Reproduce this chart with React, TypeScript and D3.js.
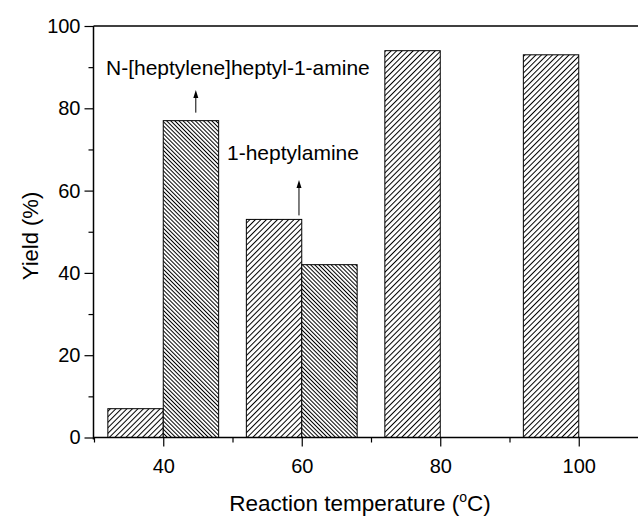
import React, { useRef, useEffect } from "react";
import * as d3 from "d3";

const temps = [40, 60, 80, 100];
const heptylamine = [7, 53, 94, 93];
const dimerAmine = [77, 42, 0, 0];
const seriesNames = ["1-heptylamine", "N-[heptylene]heptyl-1-amine"];
const yMajor = [0, 20, 40, 60, 80, 100];
const yMinor = [10, 30, 50, 70, 90];
const xMajor = [40, 60, 80, 100];
const xMinor = [30, 50, 70, 90, 110];

export default function App() {
  const svgRef = useRef<SVGSVGElement>(null);

  useEffect(() => {
    const width = 638;
    const height = 520;
    const font = "'Liberation Sans', Arial, sans-serif";

    const svg = d3.select(svgRef.current)
      .attr("width", width)
      .attr("height", height)
      .attr("viewBox", [0, 0, width, height] as any);

    svg.selectAll("*").remove();

    const x = d3.scaleLinear().domain([30, 110]).range([94, 648]);
    const y = d3.scaleLinear().domain([0, 100]).range([437.5, 26]);
    const barW = 8; // in °C units

    // hatch patterns
    const defs = svg.append("defs");
    const hatch = (id, size, angle) => {
      const p = defs.append("pattern")
        .attr("id", id)
        .attr("patternUnits", "userSpaceOnUse")
        .attr("width", size)
        .attr("height", size)
        .attr("patternTransform", `rotate(${angle})`);
      p.append("rect").attr("width", size).attr("height", size).attr("fill", "#fff");
      p.append("line")
        .attr("x1", 0.5).attr("y1", 0)
        .attr("x2", 0.5).attr("y2", size)
        .attr("stroke", "#000").attr("stroke-width", 1);
    };
    hatch("hatchA", 3.9, 45);
    hatch("hatchB", 2.9, -45);

    const rows = temps.map((t, i) => ({ t, a: heptylamine[i], b: dimerAmine[i] }));

    // bars, series A (left of tick) and B (right of tick)
    svg.append("g")
      .selectAll("rect")
      .data(rows)
      .join("rect")
        .attr("x", d => x(d.t - barW))
        .attr("y", d => y(d.a))
        .attr("width", x(barW) - x(0))
        .attr("height", d => y(0) - y(d.a))
        .attr("fill", "url(#hatchA)")
        .attr("stroke", "#000")
        .attr("stroke-width", 1);

    svg.append("g")
      .selectAll("rect")
      .data(rows)
      .join("rect")
        .attr("x", d => x(d.t))
        .attr("y", d => y(d.b))
        .attr("width", x(barW) - x(0))
        .attr("height", d => y(0) - y(d.b))
        .attr("fill", "url(#hatchB)")
        .attr("stroke", "#000")
        .attr("stroke-width", 1);

    const styleAxis = g => {
      g.selectAll("text").attr("font-family", font).attr("font-size", 20).attr("fill", "#000");
      g.selectAll("line").attr("stroke", "#000").attr("stroke-width", 1.2);
      g.select(".domain").remove();
    };

    // bottom axis
    svg.append("g")
      .attr("transform", `translate(0,${y(0)})`)
      .call(d3.axisBottom(x).tickValues(xMajor).tickSize(9).tickPadding(12).tickFormat(d3.format("d")))
      .call(styleAxis);
    svg.append("g")
      .attr("transform", `translate(0,${y(0)})`)
      .call(d3.axisBottom(x).tickValues(xMinor).tickSize(5).tickFormat(() => ""))
      .call(styleAxis);

    // left axis
    svg.append("g")
      .attr("transform", `translate(${x(30) - 0.5},0)`)
      .call(d3.axisLeft(y).tickValues(yMajor).tickSize(9).tickPadding(4).tickFormat(d3.format("d")))
      .call(styleAxis);
    svg.append("g")
      .attr("transform", `translate(${x(30) - 0.5},0)`)
      .call(d3.axisLeft(y).tickValues(yMinor).tickSize(5).tickFormat(() => ""))
      .call(styleAxis);

    // frame lines
    const frame = svg.append("g").attr("stroke", "#000").attr("stroke-width", 1.5);
    frame.append("line").attr("x1", x(30) - 0.5).attr("x2", width).attr("y1", y(0)).attr("y2", y(0));
    frame.append("line").attr("x1", x(30) - 0.5).attr("x2", width).attr("y1", y(100)).attr("y2", y(100));
    frame.append("line").attr("x1", x(30) - 0.5).attr("x2", x(30) - 0.5).attr("y1", y(100)).attr("y2", y(0) + 2);

    // annotations with arrows
    const notes = [
      { name: seriesNames[1], tx: 106, ty: 75, ax: x(44.7), y0: y(dimerAmine[0]) - 8, y1: 90 },
      { name: seriesNames[0], tx: 227, ty: 160, ax: x(59.6), y0: y(heptylamine[1]) - 4, y1: 180 },
    ];
    notes.forEach(n => {
      svg.append("text")
        .attr("x", n.tx).attr("y", n.ty)
        .attr("font-family", font).attr("font-size", 21)
        .text(n.name);
      svg.append("line")
        .attr("x1", n.ax).attr("x2", n.ax)
        .attr("y1", n.y0).attr("y2", n.y1 + 6)
        .attr("stroke", "#000").attr("stroke-width", 1);
      svg.append("path")
        .attr("d", `M${n.ax},${n.y1} L${n.ax - 2.5},${n.y1 + 8} L${n.ax + 2.5},${n.y1 + 8} Z`)
        .attr("fill", "#000");
    });

    // axis titles
    const xt = svg.append("text")
      .attr("x", 360).attr("y", 511)
      .attr("text-anchor", "middle")
      .attr("font-family", font).attr("font-size", 22.5);
    xt.append("tspan").text("Reaction temperature (");
    xt.append("tspan").attr("font-size", 14).attr("dy", -9).text("o");
    xt.append("tspan").attr("dy", 9).text("C)");

    svg.append("text")
      .attr("transform", "translate(38,236) rotate(-90)")
      .attr("text-anchor", "middle")
      .attr("font-family", font).attr("font-size", 22)
      .text("Yield (%)");
  }, []);

  return <svg ref={svgRef} style={{ position: "absolute", left: 0, top: 0 }}></svg>;
}
